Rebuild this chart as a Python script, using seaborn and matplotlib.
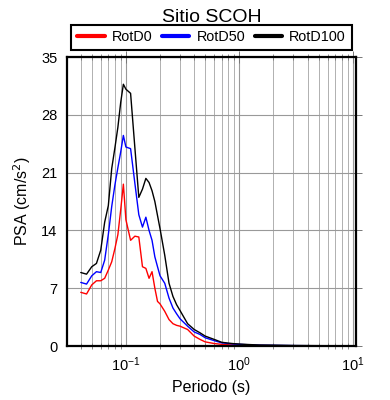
import matplotlib
matplotlib.use("Agg")
import matplotlib.pyplot as plt
import seaborn as sns
import numpy as np
import pandas as pd

# Periods (s) and spectral accelerations (cm/s^2)
periodo = [0.04, 0.045, 0.05, 0.055, 0.06, 0.065, 0.07, 0.075, 0.08, 0.085,
           0.09, 0.095, 0.1, 0.11, 0.12, 0.13, 0.14, 0.15, 0.16, 0.17,
           0.18, 0.19, 0.2, 0.22, 0.24, 0.26, 0.28, 0.3, 0.35, 0.4,
           0.45, 0.5, 0.6, 0.7, 0.8, 0.9, 1.0, 1.2, 1.5, 2.0,
           3.0, 4.0, 5.0, 7.0, 10.0]

rotd0 = [6.5, 6.3, 7.4, 7.9, 7.9, 8.2, 9.2, 10.2, 11.8, 13.5,
         16.5, 19.6, 15.3, 12.8, 13.3, 13.2, 9.6, 9.4, 8.2, 9.0,
         7.0, 5.4, 5.1, 4.2, 3.2, 2.7, 2.5, 2.4, 2.0, 1.2,
         0.8, 0.5, 0.3, 0.2, 0.15, 0.12, 0.1, 0.08, 0.06, 0.04,
         0.03, 0.02, 0.02, 0.01, 0.01]

rotd50 = [7.7, 7.5, 8.5, 9.0, 8.9, 10.4, 13.5, 16.9, 19.5, 21.6,
          23.5, 25.5, 24.1, 23.9, 19.7, 15.9, 14.4, 15.6, 14.0, 12.8,
          10.8, 9.6, 8.5, 7.6, 5.8, 4.6, 3.9, 3.3, 2.4, 1.7,
          1.4, 1.0, 0.65, 0.38, 0.3, 0.24, 0.2, 0.15, 0.1, 0.08,
          0.05, 0.04, 0.03, 0.02, 0.02]

rotd100 = [8.9, 8.7, 9.6, 10.0, 11.6, 15.0, 17.0, 21.5, 24.0, 26.5,
           29.5, 31.7, 31.1, 30.6, 24.0, 18.0, 19.0, 20.3, 19.8, 18.8,
           17.5, 15.8, 14.2, 11.0, 7.6, 6.0, 5.0, 4.3, 2.7, 2.0,
           1.6, 1.2, 0.8, 0.45, 0.35, 0.28, 0.24, 0.18, 0.12, 0.1,
           0.06, 0.05, 0.04, 0.03, 0.02]

series = ["RotD0", "RotD50", "RotD100"]
colores = ["red", "blue", "black"]

df = pd.DataFrame({"Periodo": periodo * 3,
                   "PSA": rotd0 + rotd50 + rotd100,
                   "Componente": np.repeat(series, len(periodo))})

sns.set_style("white", {"text.color": "black", "axes.labelcolor": "black",
                        "xtick.color": "black", "ytick.color": "black"})
plt.rcParams["font.family"] = ["Liberation Sans", "DejaVu Sans"]

fig = plt.figure(figsize=(3.9, 4.0), dpi=100)
ax = fig.add_axes([0.172, 0.135, 0.741, 0.7225])

sns.lineplot(data=df, x="Periodo", y="PSA", hue="Componente",
             palette=dict(zip(series, colores)), linewidth=1.0, ax=ax,
             legend=False)

ax.set_xscale("log")
ax.set_xlim(0.0303, 10.7)
ax.set_ylim(0, 35)
ax.set_yticks([0, 7, 14, 21, 28, 35])

# grid on major and minor x ticks, major y ticks
ax.grid(True, which="major", color="#999999", linewidth=0.8)
ax.grid(True, which="minor", axis="x", color="#b0b0b0", linewidth=0.7)

ax.tick_params(which="major", direction="inout", length=8, width=0.7,
               color="#777777", labelcolor="black", top=True, right=True,
               labelsize=10.5, pad=3)
ax.tick_params(which="minor", direction="inout", length=5, width=0.6,
               color="#777777", top=True, bottom=True)
for sp in ax.spines.values():
    sp.set_linewidth(1.6)
    sp.set_color("black")

ax.set_xlabel("Periodo (s)", fontsize=11.5, color="black")
ax.set_ylabel("PSA (cm/s$^2$)", fontsize=11.5, labelpad=6, color="black")
ax.set_title("Sitio SCOH", fontsize=14, pad=25, color="black")

handles = [plt.Line2D([], [], color=c, linewidth=3) for c in colores]
leg = ax.legend(handles, series, ncol=3, loc="lower center",
                bbox_to_anchor=(0.5, 1.024), borderaxespad=0,
                frameon=True, fancybox=False,
                fontsize=10.4, handlelength=1.9, columnspacing=0.65,
                borderpad=0.4, handletextpad=0.5)
frame = leg.get_frame()
frame.set_edgecolor("black")
frame.set_linewidth(1.5)
frame.set_alpha(1)
for t in leg.get_texts():
    t.set_color("black")

fig.savefig("out.png", dpi=100)
